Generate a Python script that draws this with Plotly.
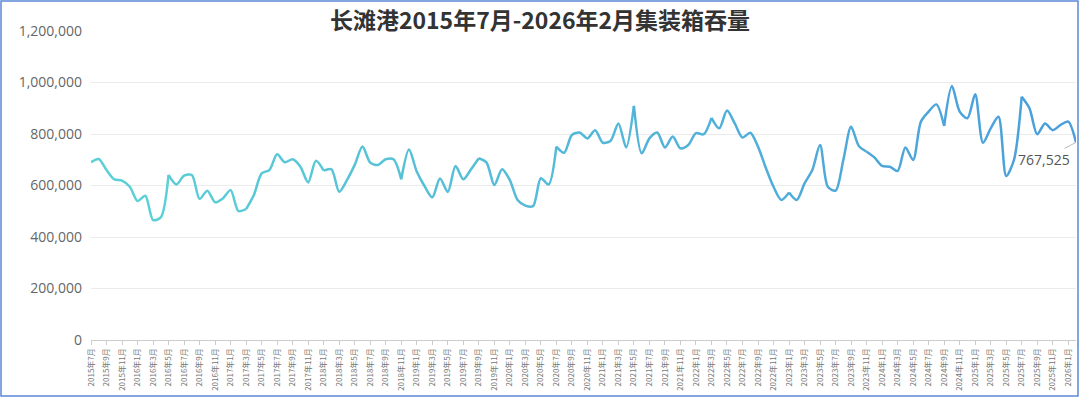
import plotly.graph_objects as go

# Monthly container volume (TEU), 2015-07 .. 2026-02
years_months = []
y, m = 2015, 7
while (y, m) <= (2026, 2):
    years_months.append((y, m))
    m += 1
    if m > 12:
        m = 1
        y += 1
month_labels = [f"{yy}年{mm}月" for yy, mm in years_months]

volumes = [
    690000, 703000, 660000, 624000, 619000, 595000, 540000, 560000, 466000, 476000,
    641000, 604000, 638000, 641000, 548000, 580000, 535000, 550000, 582000, 501000,
    508000, 563000, 647000, 660000, 721000, 690000, 702000, 673000, 612000, 696000,
    658000, 663000, 576000, 621000, 680000, 751000, 689000, 680000, 702000, 702000,
    624000, 740000, 654000, 598000, 554000, 627000, 575000, 676000, 624000, 663000,
    706000, 689000, 602000, 663000, 621000, 544000, 522000, 520000, 628000, 604000,
    751000, 727000, 796000, 806000, 783000, 815000, 766000, 774000, 841000, 748000,
    909000, 725000, 783000, 806000, 748000, 790000, 744000, 757000, 803000, 799000,
    863000, 822000, 891000, 841000, 786000, 805000, 751000, 669000, 595000, 544000,
    573000, 544000, 608000, 660000, 757000, 595000, 580000, 699000, 828000, 753000,
    731000, 709000, 676000, 673000, 656000, 748000, 699000, 848000, 887000, 915000,
    831000, 986000, 887000, 861000, 954000, 766000, 822000, 867000, 637000, 699000,
    945000, 900000, 799000, 841000, 815000, 835000, 848000, 767525,
]

title_text = "长滩港2015年7月-2026年2月集装箱吞量"
y_tickvals = [0, 200000, 400000, 600000, 800000, 1000000, 1200000]
y_ticktext = ["0", "200,000", "400,000", "600,000", "800,000", "1,000,000", "1,200,000"]

W, H = 1080, 398
ML, MR, MT, MB = 91, 4, 31, 58
pw, ph = W - ML - MR, H - MT - MB

x_idx = list(range(len(volumes)))

c0 = (92, 210, 214)
c1 = (74, 157, 219)

fig = go.Figure()
seg = 10
n = len(volumes)
starts = list(range(0, n - 1, seg))
for k, s in enumerate(starts):
    e = min(s + seg, n - 1)
    t = (s + e) / 2 / (n - 1)
    col = tuple(round(c0[i] + (c1[i] - c0[i]) * t) for i in range(3))
    fig.add_trace(go.Scatter(
        x=x_idx[s:e + 1], y=volumes[s:e + 1], mode="lines",
        line=dict(color=f"rgb{col}", width=2.5, shape="spline", smoothing=0.8),
        showlegend=False, hoverinfo="skip",
    ))

fig.add_annotation(
    x=x_idx[-1], y=volumes[-1], text=f"{volumes[-1]:,}",
    showarrow=True, arrowhead=0, arrowwidth=1, arrowcolor="#bbbbbb",
    ax=-32, ay=17, standoff=0,
    font=dict(family="Open Sans, DejaVu Sans, sans-serif", size=14, color="#555555"),
)

# outer border
fig.add_shape(
    type="rect", xref="paper", yref="paper",
    x0=(1.0 - ML) / pw, x1=(W - 2.0 - ML) / pw,
    y0=(ph - (H - 2.0 - MT)) / ph, y1=(ph - (1.0 - MT)) / ph,
    line=dict(color="#5b88d8", width=1.5), fillcolor="rgba(0,0,0,0)", layer="above",
)

fig.update_layout(
    width=W, height=H,
    margin=dict(l=ML, r=MR, t=MT, b=MB),
    paper_bgcolor="white", plot_bgcolor="white",
    title=dict(
        text=f"<b>{title_text}</b>", x=0.5, xref="container", xanchor="center",
        y=1 - 21 / H, yref="container", yanchor="middle",
        font=dict(family="Noto Sans CJK SC, sans-serif", size=23, color="#333333"),
    ),
    xaxis=dict(
        range=[0, n - 1], tickmode="array",
        tickvals=x_idx[::2], ticktext=month_labels[::2], tickangle=-90,
        tickfont=dict(family="Noto Sans CJK SC, sans-serif", size=8, color="#777777"),
        ticks="outside", ticklen=4, tickcolor="#cccccc",
        showline=True, linecolor="#cccccc", linewidth=1,
        showgrid=False, zeroline=False,
    ),
    yaxis=dict(
        range=[0, 1200000], tickmode="array",
        tickvals=y_tickvals, ticktext=y_ticktext,
        tickfont=dict(family="Open Sans, DejaVu Sans, sans-serif", size=14, color="#666666"),
        gridcolor="#ebebeb", gridwidth=1, zeroline=False, showline=False,
        ticks="", ticklabelstandoff=8,
    ),
)

fig.write_html(
    "out.html",
    config={"displayModeBar": False},
    post_script="document.body.style.margin='0';document.body.style.overflow='hidden';",
)
